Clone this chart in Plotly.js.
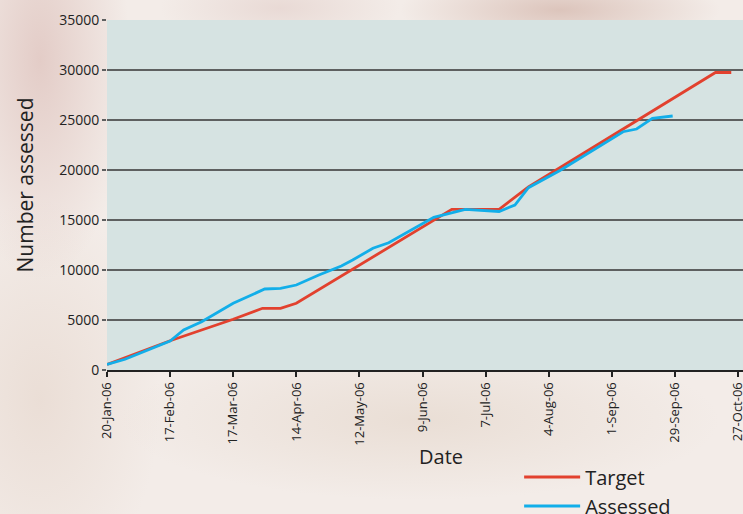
<!DOCTYPE html>
<html><head><meta charset="utf-8">
<script src="https://cdn.plot.ly/plotly-3.0.1.min.js"></script>
<style>
html,body{margin:0;padding:0;}
body{background:
  radial-gradient(ellipse 90px 220px at 40px 60px, rgba(214,178,172,0.55), rgba(214,178,172,0) 100%),
  radial-gradient(ellipse 160px 40px at 560px 10px, rgba(205,170,158,0.6), rgba(205,170,158,0) 100%),
  radial-gradient(ellipse 120px 40px at 280px 8px, rgba(220,195,190,0.45), rgba(220,195,190,0) 100%),
  radial-gradient(ellipse 300px 80px at 420px 420px, rgba(222,205,190,0.45), rgba(222,205,190,0) 100%),
  radial-gradient(ellipse 120px 200px at 40px 400px, rgba(226,208,196,0.5), rgba(226,208,196,0) 100%),
  #f3ece8;}
</style>
</head><body><div id="chart" style="width:743px;height:514px;"></div>
<script>
const targetDates = ['2006-01-20','2006-02-17','2006-03-17','2006-03-30','2006-04-07','2006-04-14','2006-06-22','2006-07-13','2006-07-26','2006-10-17','2006-10-24'];
const targetValues = [550,2930,5070,6170,6170,6670,16070,16070,18300,29750,29750];

const assessedDates = ['2006-01-20','2006-01-28','2006-02-17','2006-02-23','2006-03-03','2006-03-17','2006-03-31','2006-04-07','2006-04-14','2006-04-24','2006-05-04','2006-05-09','2006-05-18','2006-05-25','2006-06-14','2006-06-28','2006-07-13','2006-07-20','2006-07-26','2006-08-09','2006-09-06','2006-09-12','2006-09-19','2006-09-28'];
const assessedValues = [550,1070,2900,4000,4830,6670,8100,8170,8500,9500,10400,11000,12170,12730,15270,16070,15850,16500,18230,19950,23830,24100,25170,25400];

const tickDates = ['2006-01-20','2006-02-17','2006-03-17','2006-04-14','2006-05-12','2006-06-09','2006-07-07','2006-08-04','2006-09-01','2006-09-29','2006-10-27'];
const tickLabels = ['20-Jan-06','17-Feb-06','17-Mar-06','14-Apr-06','12-May-06','9-Jun-06','7-Jul-06','4-Aug-06','1-Sep-06','29-Sep-06','27-Oct-06'];

const xTitle = 'Date';
const yTitle = 'Number assessed';

const xRange = ['2006-01-20','2006-10-29 05:00'];
const font = 'Open Sans, Noto Sans, sans-serif';

const traces = [
  {x: targetDates, y: targetValues, name: 'Target', type: 'scatter', mode: 'lines',
   line: {color: '#e2412e', width: 2.8}},
  {x: assessedDates, y: assessedValues, name: 'Assessed', type: 'scatter', mode: 'lines',
   line: {color: '#12aee9', width: 2.8}}
];

const layout = {
  width: 743, height: 514,
  margin: {l: 107, r: 0, t: 20, b: 144, autoexpand: false},
  paper_bgcolor: 'rgba(0,0,0,0)',
  plot_bgcolor: '#d6e3e2',
  font: {family: font, color: '#222'},
  showlegend: true,
  legend: {x: 0.648, y: -0.25, xanchor: 'left', yanchor: 'top', bgcolor: 'rgba(0,0,0,0)',
           font: {size: 20, family: font, color: '#222'}, tracegroupgap: 0, itemwidth: 56},
  xaxis: {
    type: 'date', range: xRange, tickmode: 'array', tickvals: tickDates, ticktext: tickLabels,
    tickangle: -90, ticks: 'outside', ticklen: 5, tickwidth: 2, tickcolor: '#222',
    showline: true, linecolor: '#222', linewidth: 2, showgrid: false, zeroline: false,
    ticklabeloverflow: 'allow',
    tickfont: {size: 13, family: font, color: '#222'},
    automargin: false
  },
  xaxis2: {
    type: 'date', range: xRange, overlaying: 'x', anchor: 'y', side: 'bottom',
    tickmode: 'array', tickvals: tickDates, showticklabels: false,
    ticks: 'inside', ticklen: 7, tickwidth: 2, tickcolor: '#222',
    showline: false, showgrid: false, zeroline: false
  },
  yaxis: {
    range: [0, 35000], dtick: 5000, tick0: 0, tickformat: 'd',
    showgrid: true, gridcolor: '#5e6060', gridwidth: 2,
    ticks: 'outside', ticklen: 4, tickwidth: 2, tickcolor: '#5e6060',
    showline: false, zeroline: false,
    tickfont: {size: 14, family: font, color: '#222'},
    automargin: false
  },
  annotations: [
    {text: yTitle, xref: 'paper', yref: 'paper', x: -0.129, y: 0.53, xanchor: 'center', yanchor: 'middle',
     textangle: -90, showarrow: false, font: {size: 21, family: font, color: '#222'}},
    {text: xTitle, xref: 'paper', yref: 'paper', x: 0.525, y: -0.246, xanchor: 'center', yanchor: 'middle',
     showarrow: false, font: {size: 20, family: font, color: '#222'}}
  ]
};

Plotly.newPlot('chart', traces, layout, {displayModeBar: false, staticPlot: true});
</script></body></html>
